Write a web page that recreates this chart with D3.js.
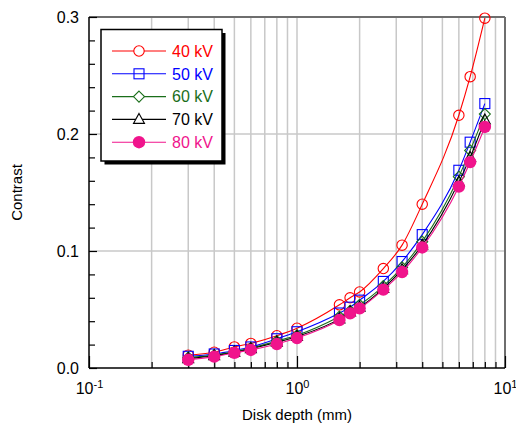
<!DOCTYPE html>
<html>
<head>
<meta charset="utf-8">
<script src="https://cdn.jsdelivr.net/npm/d3@7/dist/d3.min.js"></script>
<style>
  html, body { margin: 0; padding: 0; background: #fff; }
  svg { display: block; font-family: "Liberation Sans", Arial, sans-serif; }
</style>
</head>
<body>
<svg id="chart" width="516" height="430"></svg>
<script>
// ---- data ----
const depth = [0.3, 0.4, 0.5, 0.6, 0.8, 1.0, 1.6, 1.8, 2.0, 2.6, 3.2, 4.0, 6.0, 6.8, 8.0];
const kv40 = [0.011, 0.0135, 0.018, 0.021, 0.0276, 0.034, 0.054, 0.060, 0.065, 0.085, 0.105, 0.140, 0.216, 0.249, 0.299];
const kv50 = [0.010, 0.012, 0.015, 0.018, 0.025, 0.031, 0.047, 0.052, 0.058, 0.074, 0.091, 0.114, 0.169, 0.193, 0.226];
const kv60 = [0.009, 0.011, 0.014, 0.017, 0.023, 0.028, 0.044, 0.049, 0.054, 0.070, 0.086, 0.108, 0.1635, 0.186, 0.217];
const kv70 = [0.008, 0.0105, 0.0135, 0.0165, 0.022, 0.027, 0.042, 0.048, 0.052, 0.068, 0.084, 0.105, 0.159, 0.180, 0.212];
const kv80 = [0.007, 0.0097, 0.013, 0.0154, 0.0205, 0.0256, 0.041, 0.0467, 0.051, 0.067, 0.082, 0.103, 0.155, 0.176, 0.206];
const seriesNames = ["40 kV", "50 kV", "60 kV", "70 kV", "80 kV"];
const xMajorTicks = [0.1, 1, 10];
const xMajorExp = ["-1", "0", "1"];
const yMajorTicks = [0.0, 0.1, 0.2, 0.3];
const yMajorLabels = ["0.0", "0.1", "0.2", "0.3"];
const xTitle = "Disk depth (mm)";
const yTitle = "Contrast";

// ---- styles ----
const styles = [
  { color: "#ff0000", shape: "circle" },
  { color: "#0000ff", shape: "square" },
  { color: "#1a6e1a", shape: "diamond" },
  { color: "#000000", shape: "triangle" },
  { color: "#f0148c", shape: "dot" }
];
const allSeries = [kv40, kv50, kv60, kv70, kv80];

const W = 516, H = 430;
const m = { left: 89, right: 11, top: 17, bottom: 62 };
const iw = W - m.left - m.right, ih = H - m.top - m.bottom;

const svg = d3.select("#chart");
const g = svg.append("g").attr("transform", `translate(${m.left},${m.top})`);

const x = d3.scaleLog().domain([0.1, 10]).range([0, iw]);
const y = d3.scaleLinear().domain([0, 0.3]).range([ih, 0]);

// minor ticks for log axis
const xMinor = [];
[0.1, 1].forEach(d => { for (let k = 2; k <= 9; k++) xMinor.push(+(d * k).toFixed(3)); });
const yMinor = d3.range(0, 16).map(i => +(i * 0.02).toFixed(2)).filter(v => !yMajorTicks.some(t => Math.abs(t - v) < 1e-9));

// grid
g.append("g").selectAll("line.vg").data(xMinor.concat([1])).join("line")
  .attr("x1", d => x(d)).attr("x2", d => x(d)).attr("y1", 0).attr("y2", ih)
  .attr("stroke", "#c8c8c8").attr("stroke-width", 1.5);
g.append("g").selectAll("line.hg").data([0.1, 0.2]).join("line")
  .attr("x1", 0).attr("x2", iw).attr("y1", d => y(d)).attr("y2", d => y(d))
  .attr("stroke", "#c8c8c8").attr("stroke-width", 1.5);

// frame top/right
g.append("line").attr("x1", 0).attr("x2", iw).attr("y1", 0).attr("y2", 0).attr("stroke", "#6e6e6e").attr("stroke-width", 2);
g.append("line").attr("x1", iw).attr("x2", iw).attr("y1", 0).attr("y2", ih).attr("stroke", "#6e6e6e").attr("stroke-width", 2);

// axes
function styleAxis(sel) {
  sel.select(".domain").remove();
  sel.selectAll(".tick line").attr("stroke", "#000").attr("stroke-width", 1.2);
}
g.append("g").attr("transform", `translate(0,${ih})`)
  .call(d3.axisBottom(x).tickValues(xMinor).tickSize(-6).tickFormat(""))
  .call(styleAxis);
const xAx = g.append("g").attr("transform", `translate(0,${ih})`)
  .call(d3.axisBottom(x).tickValues(xMajorTicks).tickSize(-12).tickFormat(""))
  .call(styleAxis);
xAx.selectAll(".tick").append("text")
  .attr("y", 15).attr("dy", "0.71em").attr("text-anchor", "middle")
  .attr("fill", "#000").attr("font-size", 16)
  .each(function(d, i) {
    const t = d3.select(this);
    t.append("tspan").text("10");
    t.append("tspan").attr("font-size", 11).attr("dy", "-0.6em").text(xMajorExp[i]);
  });

g.append("g").call(d3.axisLeft(y).tickValues(yMinor).tickSize(-6).tickFormat("")).call(styleAxis);
const yAx = g.append("g").call(d3.axisLeft(y).tickValues(yMajorTicks).tickSize(-8).tickFormat((d, i) => yMajorLabels[i]))
  .call(styleAxis);
yAx.selectAll(".tick text").attr("x", -10).attr("font-size", 16).attr("fill", "#000")
  .attr("font-family", "Liberation Sans, Arial, sans-serif");

g.append("line").attr("x1", 0).attr("x2", 0).attr("y1", 0).attr("y2", ih).attr("stroke", "#000").attr("stroke-width", 1.5);
g.append("line").attr("x1", 0).attr("x2", iw).attr("y1", ih).attr("y2", ih).attr("stroke", "#000").attr("stroke-width", 1.5);

// titles
svg.append("text").attr("x", m.left + iw / 2).attr("y", 420).attr("text-anchor", "middle")
  .attr("font-size", 15).text(xTitle);
svg.append("text").attr("transform", `translate(22,${m.top + ih / 2}) rotate(-90)`)
  .attr("text-anchor", "middle").attr("font-size", 15).text(yTitle);

// markers
function drawMarker(sel, shape, color, cx, cy, legend) {
  const fillOpen = legend ? "#fff" : "none";
  if (shape === "circle") {
    sel.append("circle").attr("cx", cx).attr("cy", cy).attr("r", 5.2)
      .attr("fill", fillOpen).attr("stroke", color).attr("stroke-width", 1.1);
  } else if (shape === "square") {
    sel.append("rect").attr("x", cx - 5).attr("y", cy - 5).attr("width", 10).attr("height", 10)
      .attr("fill", "none").attr("stroke", color).attr("stroke-width", 1.1);
  } else if (shape === "diamond") {
    sel.append("path").attr("d", `M${cx},${cy - 5.5}L${cx + 5.5},${cy}L${cx},${cy + 5.5}L${cx - 5.5},${cy}Z`)
      .attr("fill", fillOpen).attr("stroke", color).attr("stroke-width", 1.1);
  } else if (shape === "triangle") {
    sel.append("path").attr("d", `M${cx},${cy - 6}L${cx + 5.5},${cy + 4}L${cx - 5.5},${cy + 4}Z`)
      .attr("fill", fillOpen).attr("stroke", color).attr("stroke-width", 1.1);
  } else {
    sel.append("circle").attr("cx", cx).attr("cy", cy).attr("r", 6.2).attr("fill", color).attr("stroke", "none");
  }
}

const line = d3.line().x(d => x(d[0])).y(d => y(d[1])).curve(d3.curveMonotoneX);
const plot = g.append("g");
allSeries.forEach((vals, si) => {
  const st = styles[si];
  const pts = depth.map((d, i) => [d, vals[i]]);
  const sg = plot.append("g");
  sg.append("path").attr("d", line(pts)).attr("fill", "none").attr("stroke", st.color).attr("stroke-width", 1.1);
  pts.forEach(p => drawMarker(sg, st.shape, st.color, x(p[0]), y(p[1]), false));
});

// legend
const lg = svg.append("g");
const lx = 101, ly = 29.5, lw = 121, lh = 131.5;
lg.append("rect").attr("x", lx + 3.5).attr("y", ly + 3.5).attr("width", lw).attr("height", lh).attr("fill", "#000");
lg.append("rect").attr("x", lx).attr("y", ly).attr("width", lw).attr("height", lh)
  .attr("fill", "#fff").attr("stroke", "#000").attr("stroke-width", 1.5);
seriesNames.forEach((name, i) => {
  const st = styles[i];
  const cy = 51 + i * 22.8;
  lg.append("line").attr("x1", 112).attr("x2", 166).attr("y1", cy).attr("y2", cy)
    .attr("stroke", st.color).attr("stroke-width", 1.1);
  drawMarker(lg, st.shape, st.color, 139, cy, true);
  lg.append("text").attr("x", 172).attr("y", cy).attr("dy", "0.36em")
    .attr("font-size", 16).attr("fill", st.color).text(name);
});
</script>
</body>
</html>
